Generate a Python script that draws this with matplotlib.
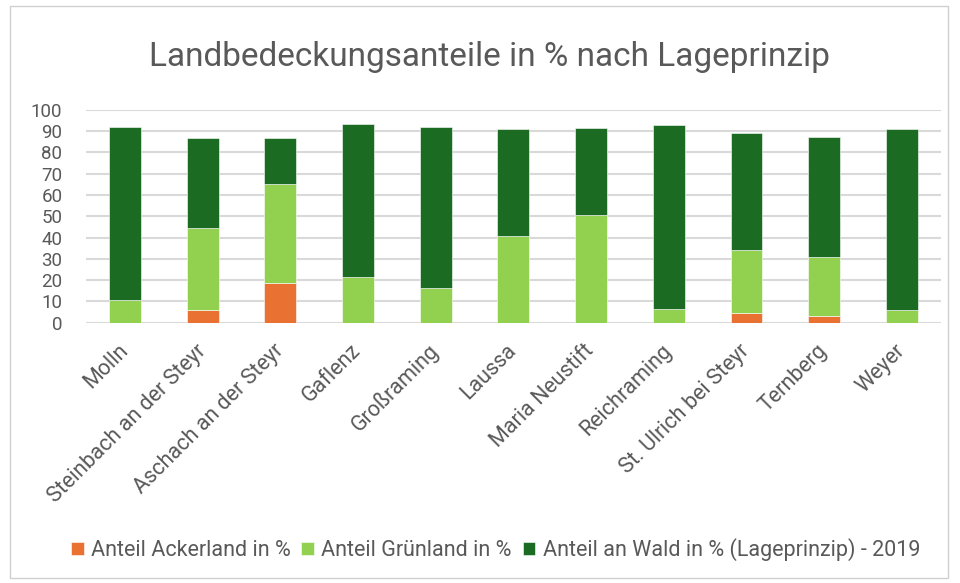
import numpy as np
import matplotlib
matplotlib.use('Agg')
import matplotlib.pyplot as plt

gemeinden = ['Molln', 'Steinbach an der Steyr', 'Aschach an der Steyr', 'Gaflenz',
             'Großraming', 'Laussa', 'Maria Neustift', 'Reichraming',
             'St. Ulrich bei Steyr', 'Ternberg', 'Weyer']
acker = [0.0, 5.9, 18.6, 0.0, 0.0, 0.0, 0.0, 0.0, 4.7, 3.0, 0.0]
gruen = [10.8, 38.5, 46.3, 21.6, 16.1, 40.8, 50.5, 6.6, 29.6, 27.7, 5.9]
wald = [81.2, 42.1, 21.6, 71.5, 75.9, 50.0, 40.9, 86.0, 54.6, 56.5, 84.9]

c_acker = '#E97132'
c_gruen = '#92D050'
c_wald = '#1B6B23'
txt = '#595959'

plt.rcParams['font.family'] = ['Roboto', 'DejaVu Sans']

fig = plt.figure(figsize=(9.6, 5.83), dpi=100)
# light border around the chart
fig.patches.append(plt.Rectangle((10 / 960, 5 / 583), 938 / 960, 572 / 583,
                                 transform=fig.transFigure, fill=False,
                                 edgecolor='#d0d0d0', linewidth=1))
ax = fig.add_axes([0.0896, 0.4465, 0.8904, 0.3653])

x = np.arange(len(gemeinden))
w = 0.41
acker = np.array(acker)
gruen = np.array(gruen)
wald = np.array(wald)
ax.bar(x, acker, w, color=c_acker, label='Anteil Ackerland in %', zorder=3,
       edgecolor='white', linewidth=0.4)
ax.bar(x, gruen, w, bottom=acker, color=c_gruen, label='Anteil Grünland in %', zorder=3,
       edgecolor='white', linewidth=0.4)
ax.bar(x, wald, w, bottom=acker + gruen, color=c_wald,
       label='Anteil an Wald in % (Lageprinzip) - 2019', zorder=3,
       edgecolor='white', linewidth=0.4)

ax.set_xlim(-0.5, len(gemeinden) - 0.5)
ax.set_ylim(0, 100)
ax.set_yticks(range(0, 101, 10))
ax.grid(axis='y', color='#d9d9d9', linewidth=1.5, zorder=0)
for s in ax.spines.values():
    s.set_visible(False)
ax.tick_params(axis='both', length=0, colors=txt)
ax.tick_params(axis='y', pad=17, labelsize=13.5)
ax.tick_params(axis='x', pad=18, labelsize=15.5)
ax.set_xticks(x)
ax.set_xticklabels(gemeinden, rotation=45, ha='right', va='center',
                   rotation_mode='anchor')

fig.text(0.51, 0.887, 'Landbedeckungsanteile in % nach Lageprinzip', ha='center',
         va='baseline', fontsize=24, color=txt)

leg = fig.legend(loc='center', bbox_to_anchor=(0.516, 0.057), ncol=3, frameon=False,
                 fontsize=15.5, handlelength=0.6, handleheight=0.6, handletextpad=0.33,
                 columnspacing=0.5)
for t in leg.get_texts():
    t.set_color(txt)

fig.savefig('out.png', dpi=100)
